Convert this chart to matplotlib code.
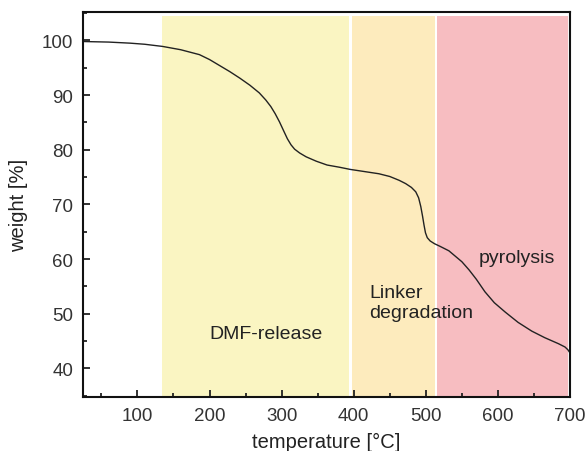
import matplotlib
matplotlib.use("Agg")
import matplotlib.pyplot as plt
from matplotlib.ticker import MultipleLocator

plt.rcParams['font.family'] = ['Liberation Sans', 'DejaVu Sans']

temperature = [25, 60, 90, 110, 135, 160, 186, 200, 214, 228, 242, 256, 269, 278, 285,
               291, 297, 303, 308, 313, 318, 325, 334, 348, 363, 380, 395, 415, 435,
               450, 463, 472, 480, 486, 490, 493, 495.5, 497.5, 499.5, 502, 506, 512,
               520, 532, 541, 550, 560, 570, 582, 595, 610, 628, 647, 665, 684, 693,
               697, 700]
weight = [99.8, 99.7, 99.5, 99.3, 98.9, 98.3, 97.4, 96.5, 95.4, 94.3, 93.1, 91.8, 90.4,
          89.1, 87.9, 86.6, 85.1, 83.4, 82.0, 80.9, 80.1, 79.4, 78.7, 77.9, 77.2, 76.8,
          76.4, 76.0, 75.6, 75.1, 74.4, 73.8, 73.1, 72.3, 71.2, 69.6, 67.8, 66.2, 64.8,
          63.9, 63.3, 62.8, 62.3, 61.5, 60.5, 59.5, 58.0, 56.3, 54.0, 52.0, 50.3, 48.4,
          46.8, 45.6, 44.5, 43.9, 43.4, 42.8]

region_starts = [134, 398, 516]
region_ends = [394, 513, 697]
region_colors = ['#faf5c2', '#fdebbd', '#f7bdc1']

labels = ['DMF-release', 'Linker\ndegradation', 'pyrolysis']
label_x = [279, 422, 573]
label_y = [46.3, 52.0, 60.3]
label_ha = ['center', 'left', 'left']

fig = plt.figure(figsize=(5.85, 4.52), dpi=100)
ax = fig.add_axes([0.1419, 0.1195, 0.9744 - 0.1419, 0.9712 - 0.1195])

ylo, yhi = 34.75, 105.2
for s, e, c in zip(region_starts, region_ends, region_colors):
    ax.fill_between([s, e], [ylo, ylo], [104.5, 104.5], color=c, linewidth=0, zorder=0)

ax.plot(temperature, weight, color='#222222', linewidth=1.0, zorder=2,
        solid_joinstyle='round')

for t, x, y, ha in zip(labels, label_x, label_y, label_ha):
    ax.text(x, y, t, ha=ha, va='center', fontsize=14, color='#222222', linespacing=1.2)

ax.set_xlim(24.5, 700)
ax.set_ylim(ylo, yhi)
ax.xaxis.set_major_locator(MultipleLocator(100))
ax.xaxis.set_minor_locator(MultipleLocator(50))
ax.yaxis.set_major_locator(MultipleLocator(10))
ax.yaxis.set_minor_locator(MultipleLocator(5))
ax.tick_params(which='both', direction='in', top=False, right=False,
               width=1.3, labelsize=13.5, colors='#222222', pad=7)
ax.tick_params(which='both', labelcolor='#333333')
ax.tick_params(which='major', length=5)
ax.tick_params(which='minor', length=3)
for sp in ax.spines.values():
    sp.set_linewidth(1.5)
    sp.set_color('#111111')

ax.set_xlabel('temperature [°C]', fontsize=14.5, color='#222222', labelpad=6)
ax.set_ylabel('weight [%]', fontsize=14.5, color='#222222', labelpad=10)

fig.savefig('out.png', dpi=100)
